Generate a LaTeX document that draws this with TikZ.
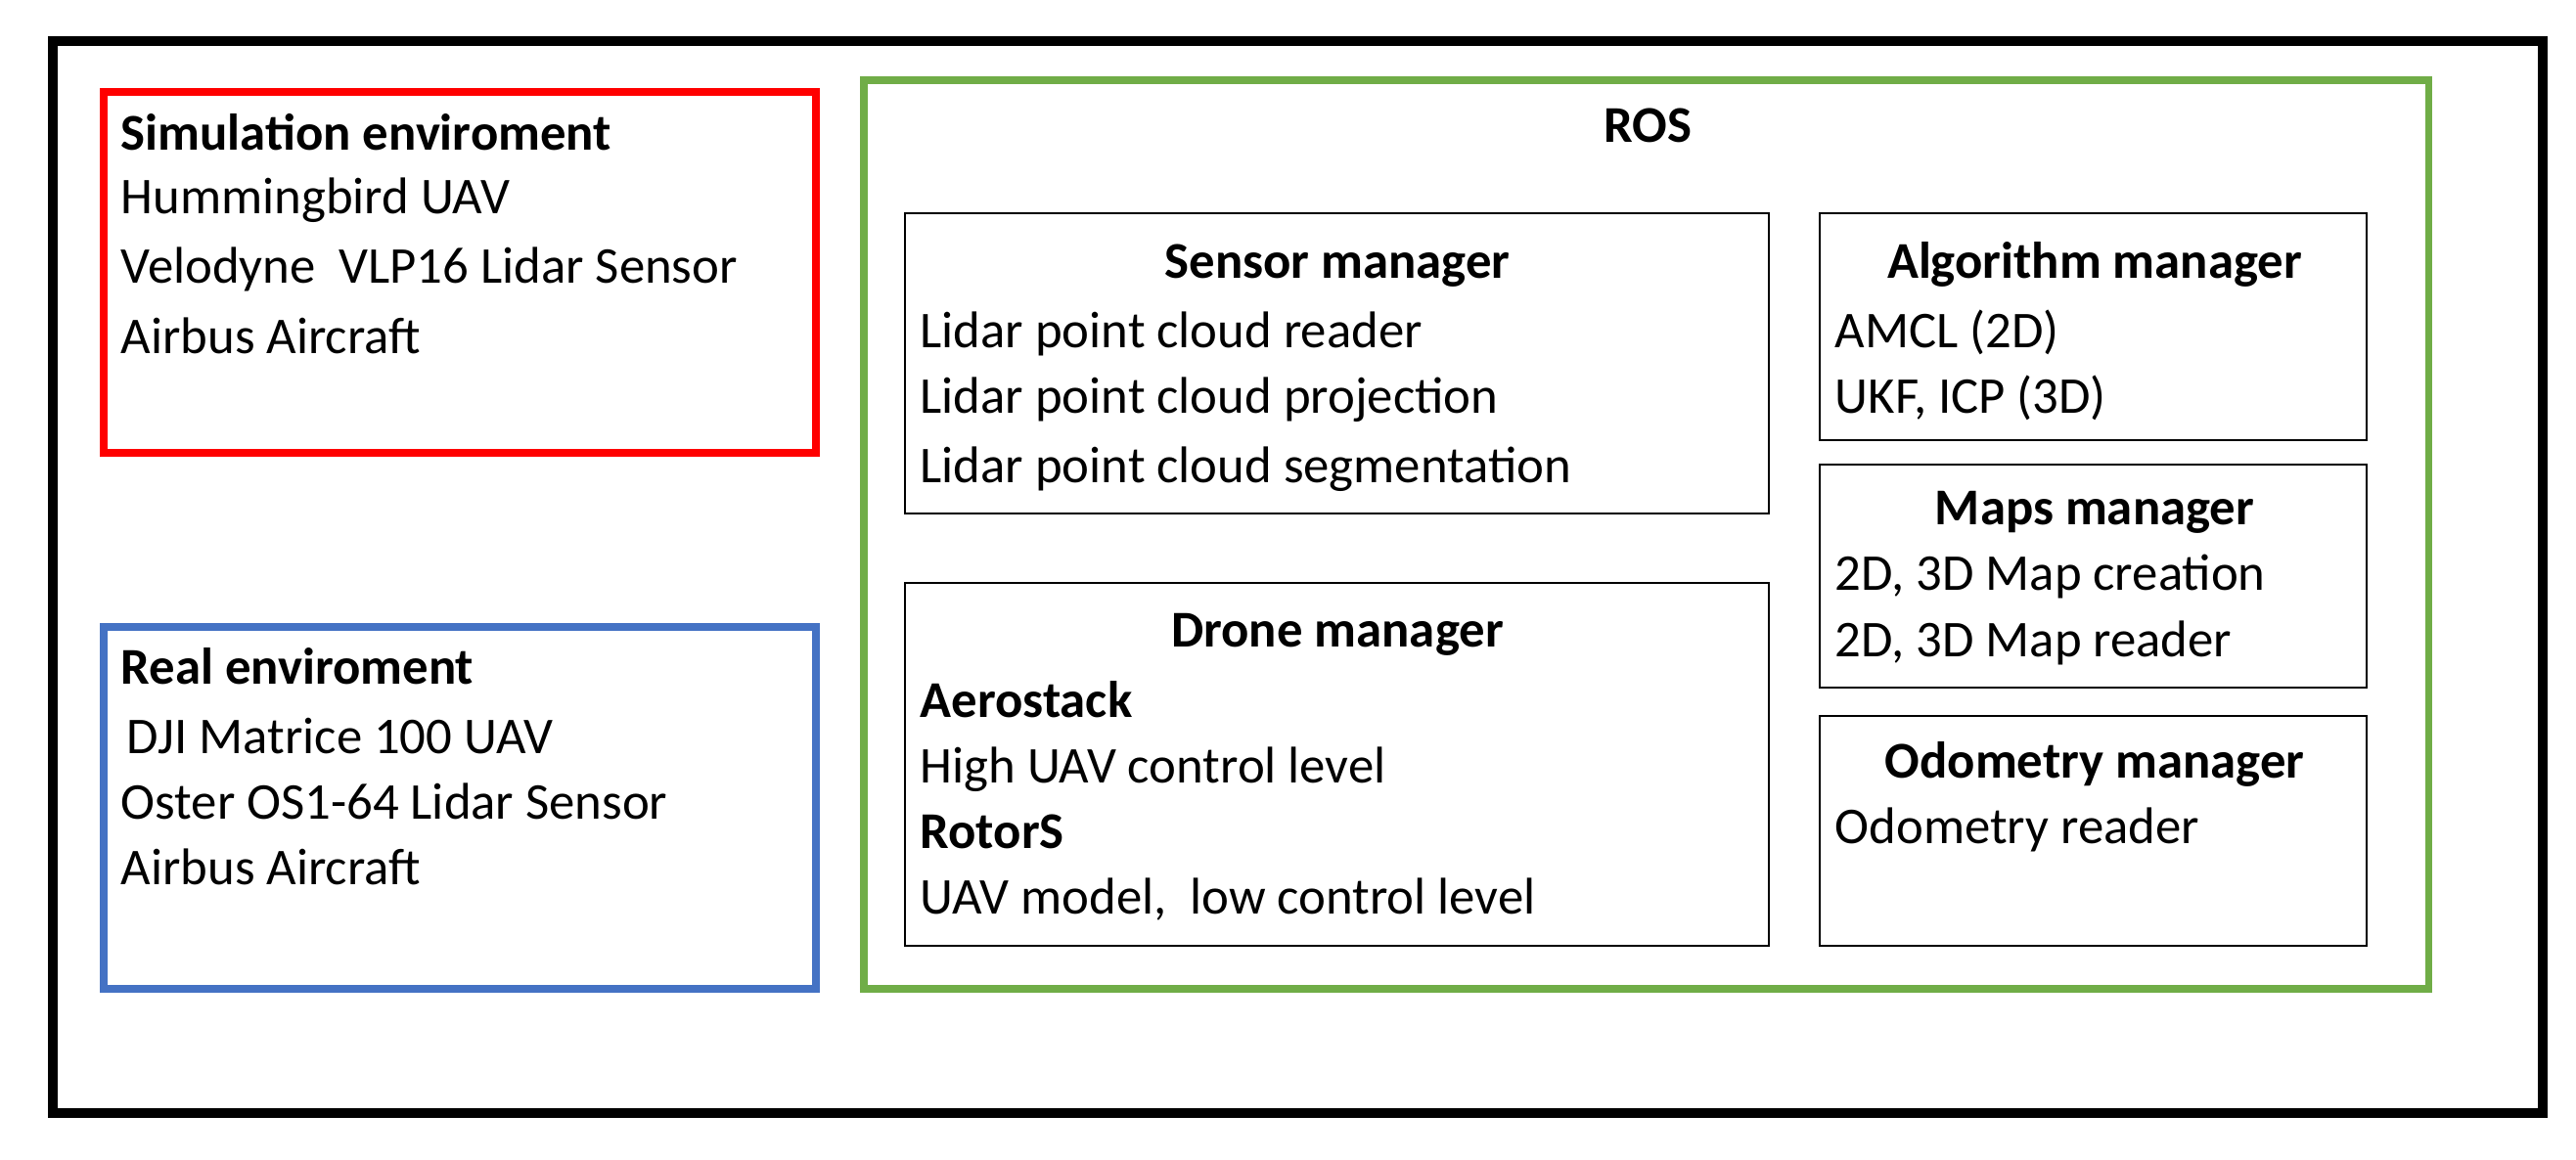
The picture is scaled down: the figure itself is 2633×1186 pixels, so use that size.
\documentclass[tikz,border=0pt]{standalone}
\usepackage{fontspec}
\setmainfont{Carlito}
\definecolor{cred}{HTML}{FF0000}
\definecolor{cblue}{HTML}{4472C4}
\definecolor{cgreen}{HTML}{70AD47}
\begin{document}
\begin{tikzpicture}[x=0.01cm,y=-0.01cm,
  txt/.style={inner sep=0pt,font=\fontsize{15}{18}\selectfont,anchor=base west},
  ttl/.style={txt,font=\fontsize{15}{18}\selectfont\bfseries},
  ctl/.style={ttl,anchor=base},
  inbox/.style={draw,line width=0.8pt}]
\useasboundingbox (0,0) rectangle (2633,1186);
\fill[white] (0,0) rectangle (2633,1186);
\draw[line width=2.8pt] (54,42) rectangle (2599,1138);
\draw[cred,line width=2pt] (106,94) rectangle (834,463);
\draw[cblue,line width=2pt] (106,641) rectangle (834,1011);
\draw[cgreen,line width=2pt] (883,82) rectangle (2482,1011);
\draw[inbox] (925,218) rectangle (1808,525);
\draw[inbox] (925,596) rectangle (1808,967);
\draw[inbox] (1860,218) rectangle (2419,450);
\draw[inbox] (1860,475) rectangle (2419,703);
\draw[inbox] (1860,732) rectangle (2419,967);
\node[ttl] (s0) at (123,154) {Simulation enviroment};
\node[txt] (s1) at (123,219) {Hummingbird UAV};
\node[txt] (s2) at (123,290) {Velodyne\ \ VLP16 Lidar Sensor};
\node[txt] (s3) at (123,362) {Airbus Aircraft};
\node[ttl] (r0) at (123,700) {Real enviroment};
\node[txt] (r1) at (129,771) {DJI Matrice 100 UAV};
\node[txt] (r2) at (123,838) {Oster OS1-64 Lidar Sensor};
\node[txt] (r3) at (123,905) {Airbus Aircraft};
\node[ctl] (ros) at (1684,146) {ROS};
\node[ctl] (sm) at (1367,285) {Sensor manager};
\node[txt] (sm1) at (940,356) {Lidar point cloud reader};
\node[txt] (sm2) at (940,423) {Lidar point cloud projection};
\node[txt] (sm3) at (940,494) {Lidar point cloud segmentation};
\node[ctl] (dm) at (1367,662) {Drone manager};
\node[ttl] (dm1) at (940,734) {Aerostack};
\node[txt] (dm2) at (940,801) {High UAV control level};
\node[ttl] (dm3) at (940,868) {RotorS};
\node[txt] (dm4) at (940,935) {UAV model,\ \ low control level};
\node[ctl] (am) at (2141,285) {Algorithm manager};
\node[txt] (am1) at (1875,356) {AMCL (2D)};
\node[txt] (am2) at (1875,423) {UKF, ICP (3D)};
\node[ctl] (mm) at (2141,537) {Maps manager};
\node[txt] (mm1) at (1875,604) {2D, 3D Map creation};
\node[txt] (mm2) at (1875,672) {2D, 3D Map reader};
\node[ctl] (om) at (2141,796) {Odometry manager};
\node[txt] (om1) at (1875,863) {Odometry reader};
\end{tikzpicture}
\end{document}
